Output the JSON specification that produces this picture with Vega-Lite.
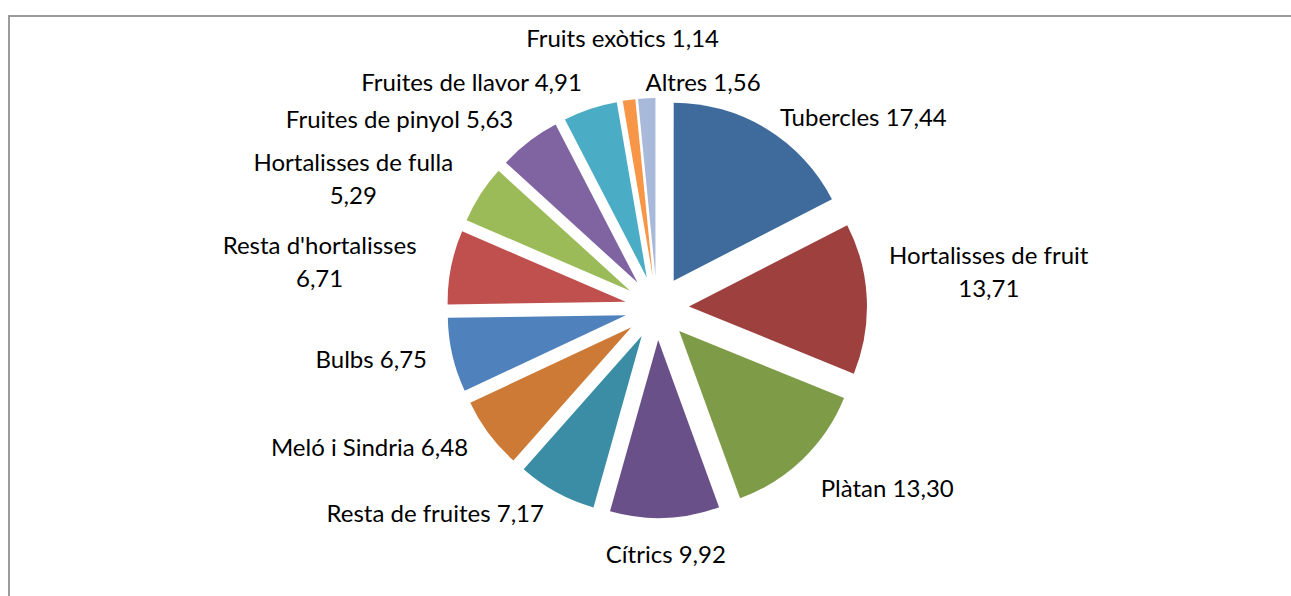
{
  "$schema": "https://vega.github.io/schema/vega-lite/v6.json",
  "width": 1290,
  "height": 590,
  "padding": {"left": 9, "top": 16, "right": -8, "bottom": -10},
  "autosize": {"type": "none"},
  "background": "white",
  "config": {
    "view": {"stroke": "#9b9b9b", "strokeWidth": 2},
    "text": {"font": "Lato", "fontSize": 24, "color": "#000000", "lineHeight": 33, "lineBreak": "\n"}
  },
  "data": {
    "values": [
      {"i": 1, "name": "Tubercles", "value": 17.44, "label": "Tubercles 17,44"},
      {"i": 2, "name": "Hortalisses de fruit", "value": 13.71, "label": "Hortalisses de fruit\n13,71"},
      {"i": 3, "name": "Plàtan", "value": 13.30, "label": "Plàtan 13,30"},
      {"i": 4, "name": "Cítrics", "value": 9.92, "label": "Cítrics 9,92"},
      {"i": 5, "name": "Resta de fruites", "value": 7.17, "label": "Resta de fruites 7,17"},
      {"i": 6, "name": "Meló i Sindria", "value": 6.48, "label": "Meló i Sindria 6,48"},
      {"i": 7, "name": "Bulbs", "value": 6.75, "label": "Bulbs 6,75"},
      {"i": 8, "name": "Resta d'hortalisses", "value": 6.71, "label": "Resta d'hortalisses\n6,71"},
      {"i": 9, "name": "Hortalisses de fulla", "value": 5.29, "label": "Hortalisses de fulla\n5,29"},
      {"i": 10, "name": "Fruites de pinyol", "value": 5.63, "label": "Fruites de pinyol 5,63"},
      {"i": 11, "name": "Fruites de llavor", "value": 4.91, "label": "Fruites de llavor 4,91"},
      {"i": 12, "name": "Fruits exòtics", "value": 1.14, "label": "Fruits exòtics 1,14"},
      {"i": 13, "name": "Altres", "value": 1.56, "label": "Altres 1,56"}
    ]
  },
  "transform": [
    {"window": [{"op": "sum", "field": "value", "as": "cum"}], "sort": [{"field": "i"}]},
    {"calculate": "datum.cum - datum.value", "as": "start"},
    {"calculate": "datum.cum - datum.value / 2", "as": "mid"},
    {"calculate": "sin(2 * PI * datum.mid / 100.01)", "as": "ux"},
    {"calculate": "cos(2 * PI * datum.mid / 100.01)", "as": "uy"},
    {"calculate": "indexof(datum.label, '\\n') >= 0", "as": "twoLine"}
  ],
  "layer": [
    {
      "mark": {"type": "arc", "radius": 178},
      "encoding": {
        "theta": {"field": "start", "type": "quantitative", "stack": null, "scale": {"domain": [0, 100.01], "range": [0, 6.283185307179586]}},
        "theta2": {"field": "cum"},
        "x": {"field": "ux", "type": "quantitative", "scale": {"domain": [-20.25, 20.0625], "nice": false, "zero": false}, "axis": null},
        "y": {"field": "uy", "type": "quantitative", "scale": {"domain": [-9.3125, 9.125], "nice": false, "zero": false}, "axis": null},
        "color": {
          "field": "name", "type": "nominal", "legend": null,
          "scale": {
            "domain": ["Tubercles", "Hortalisses de fruit", "Plàtan", "Cítrics", "Resta de fruites", "Meló i Sindria", "Bulbs", "Resta d'hortalisses", "Hortalisses de fulla", "Fruites de pinyol", "Fruites de llavor", "Fruits exòtics", "Altres"],
            "range": ["#3E6A9C", "#9E403D", "#7E9B48", "#6A5088", "#3A8DA4", "#CC7A36", "#4F81BD", "#C0504D", "#9BBB59", "#8064A2", "#4BACC6", "#F79646", "#A8B9DA"]
          }
        }
      }
    },
    {
      "transform": [{"filter": "!datum.twoLine && (datum.mid < 45 || datum.mid >= 99)"}],
      "mark": {"type": "text", "align": "left", "baseline": "top", "radius": 236},
      "encoding": {
        "theta": {"field": "mid", "type": "quantitative", "stack": null, "scale": {"domain": [0, 100.01], "range": [0, 6.283185307179586]}},
        "x": {"datum": 0, "type": "quantitative", "scale": {"domain": [-20.25, 20.0625], "nice": false, "zero": false}},
        "y": {"datum": 0, "type": "quantitative", "scale": {"domain": [-9.3125, 9.125], "nice": false, "zero": false}},
        "text": {"field": "label"}
      }
    },
    {
      "transform": [{"filter": "!datum.twoLine && datum.mid >= 45 && datum.mid < 55"}],
      "mark": {"type": "text", "align": "center", "baseline": "top", "radius": 236},
      "encoding": {
        "theta": {"field": "mid", "type": "quantitative", "stack": null, "scale": {"domain": [0, 100.01], "range": [0, 6.283185307179586]}},
        "x": {"datum": 0, "type": "quantitative", "scale": {"domain": [-20.25, 20.0625], "nice": false, "zero": false}},
        "y": {"datum": 0, "type": "quantitative", "scale": {"domain": [-9.3125, 9.125], "nice": false, "zero": false}},
        "text": {"field": "label"}
      }
    },
    {
      "transform": [{"filter": "!datum.twoLine && datum.mid >= 55 && datum.mid < 96"}],
      "mark": {"type": "text", "align": "right", "baseline": "middle", "radius": 236},
      "encoding": {
        "theta": {"field": "mid", "type": "quantitative", "stack": null, "scale": {"domain": [0, 100.01], "range": [0, 6.283185307179586]}},
        "x": {"datum": 0, "type": "quantitative", "scale": {"domain": [-20.25, 20.0625], "nice": false, "zero": false}},
        "y": {"datum": 0, "type": "quantitative", "scale": {"domain": [-9.3125, 9.125], "nice": false, "zero": false}},
        "text": {"field": "label"}
      }
    },
    {
      "transform": [{"filter": "!datum.twoLine && datum.mid >= 96 && datum.mid < 99"}],
      "mark": {"type": "text", "align": "center", "baseline": "bottom", "radius": 258},
      "encoding": {
        "theta": {"field": "mid", "type": "quantitative", "stack": null, "scale": {"domain": [0, 100.01], "range": [0, 6.283185307179586]}},
        "x": {"datum": 0, "type": "quantitative", "scale": {"domain": [-20.25, 20.0625], "nice": false, "zero": false}},
        "y": {"datum": 0, "type": "quantitative", "scale": {"domain": [-9.3125, 9.125], "nice": false, "zero": false}},
        "text": {"field": "label"}
      }
    },
    {
      "transform": [{"filter": "datum.twoLine && datum.mid < 50"}],
      "mark": {"type": "text", "align": "center", "baseline": "middle", "radius": 230, "dx": 102, "dy": -41},
      "encoding": {
        "theta": {"field": "mid", "type": "quantitative", "stack": null, "scale": {"domain": [0, 100.01], "range": [0, 6.283185307179586]}},
        "x": {"datum": 0, "type": "quantitative", "scale": {"domain": [-20.25, 20.0625], "nice": false, "zero": false}},
        "y": {"datum": 0, "type": "quantitative", "scale": {"domain": [-9.3125, 9.125], "nice": false, "zero": false}},
        "text": {"field": "label"}
      }
    },
    {
      "transform": [{"filter": "datum.twoLine && datum.mid >= 50"}],
      "mark": {"type": "text", "align": "center", "baseline": "middle", "radius": 240, "dx": -102, "dy": -14},
      "encoding": {
        "theta": {"field": "mid", "type": "quantitative", "stack": null, "scale": {"domain": [0, 100.01], "range": [0, 6.283185307179586]}},
        "x": {"datum": 0, "type": "quantitative", "scale": {"domain": [-20.25, 20.0625], "nice": false, "zero": false}},
        "y": {"datum": 0, "type": "quantitative", "scale": {"domain": [-9.3125, 9.125], "nice": false, "zero": false}},
        "text": {"field": "label"}
      }
    }
  ]
}
